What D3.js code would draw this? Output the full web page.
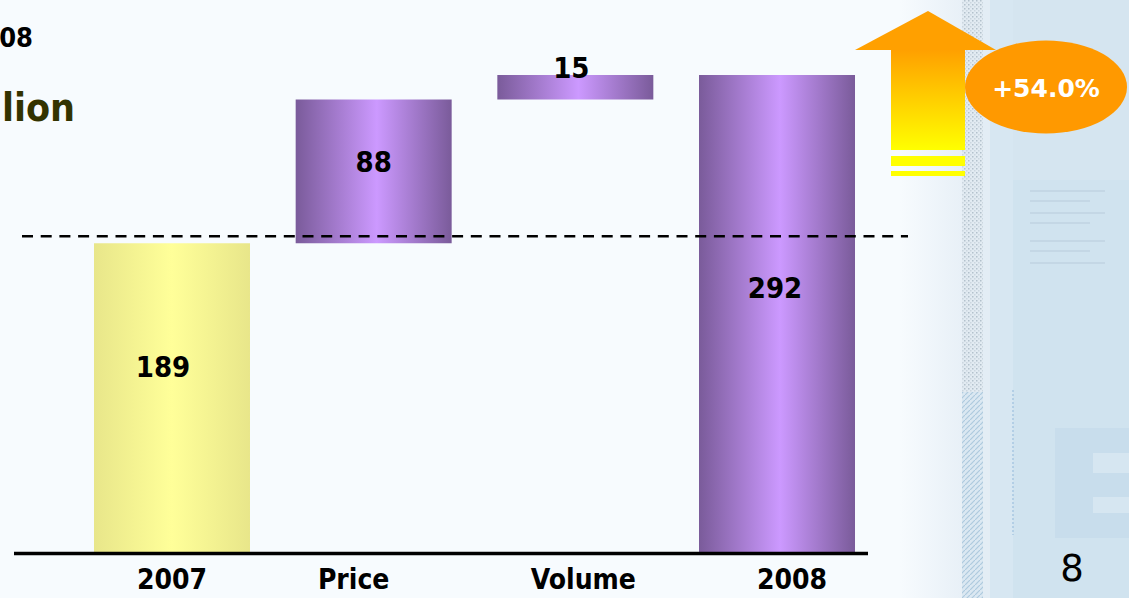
<!DOCTYPE html>
<html>
<head>
<meta charset="utf-8">
<script src="https://cdn.jsdelivr.net/npm/d3@7"></script>
<style>
html,body{margin:0;padding:0;background:#f7fbfe;overflow:hidden;}
svg{display:block;}
</style>
</head>
<body>
<svg id="chart" width="1129" height="598"></svg>
<script>
// ---- data ----
const categories = ["2007", "Price", "Volume", "2008"];
const values = [189, 88, 15, 292];
const kinds = ["total", "delta", "delta", "total"];
const growthLabel = "+54.0%";
const titleTail1 = "08";
const titleTail2 = "lion";
const pageNumber = "8";

// ---- style tweaks (label nudges relative to scale positions) ----
const tickDx = [0, -20, 8, 15];
const valueDx = [-9, 0, -4, -2];
const valueFrac = [0.40, 0.43, null, 0.445];

const FONT = "'DejaVu Sans Condensed', 'DejaVu Sans', sans-serif";
const svg = d3.select("#chart");
const W = 1129, H = 598;

// compute waterfall segments
let run = 0;
const segs = categories.map((c, i) => {
  let lo, hi;
  if (kinds[i] === "total") { lo = 0; hi = values[i]; run = values[i]; }
  else { lo = run; hi = run + values[i]; run = hi; }
  return {cat: c, v: values[i], lo, hi, kind: kinds[i], i};
});

const x = d3.scaleBand().domain(categories).range([94, 855]).paddingInner(0.2265).paddingOuter(0);
const y = d3.scaleLinear().domain([0, 292]).range([552, 75]);

const defs = svg.append("defs");
const gp = defs.append("linearGradient").attr("id", "gPurple").attr("x1", "0").attr("x2", "1").attr("y1", "0").attr("y2", "0");
gp.append("stop").attr("offset", "0").attr("stop-color", "#7a5b9a");
gp.append("stop").attr("offset", "0.52").attr("stop-color", "#cc99ff");
gp.append("stop").attr("offset", "1").attr("stop-color", "#7a5b9a");
const gy = defs.append("linearGradient").attr("id", "gYellow").attr("x1", "0").attr("x2", "1").attr("y1", "0").attr("y2", "0");
gy.append("stop").attr("offset", "0").attr("stop-color", "#e8e68a");
gy.append("stop").attr("offset", "0.5").attr("stop-color", "#ffff99");
gy.append("stop").attr("offset", "1").attr("stop-color", "#e8e68a");
const ga = defs.append("linearGradient").attr("id", "gArrow").attr("x1", "0").attr("x2", "0").attr("y1", "0").attr("y2", "1");
ga.append("stop").attr("offset", "0").attr("stop-color", "#ffa000");
ga.append("stop").attr("offset", "1").attr("stop-color", "#ffff00");
const gbg = defs.append("linearGradient").attr("id", "gBg").attr("x1", "0").attr("x2", "1").attr("y1", "0").attr("y2", "0");
gbg.append("stop").attr("offset", "0").attr("stop-color", "#f7fbfe");
gbg.append("stop").attr("offset", "1").attr("stop-color", "#e8f0f7");
// dot pattern
const pd = defs.append("pattern").attr("id", "pDots").attr("width", 4).attr("height", 4).attr("patternUnits", "userSpaceOnUse");
pd.append("rect").attr("width", 4).attr("height", 4).attr("fill", "#e2ebf2");
pd.append("rect").attr("width", 1.5).attr("height", 1.5).attr("fill", "#b3c1cc");
pd.append("rect").attr("x", 2).attr("y", 2).attr("width", 1.5).attr("height", 1.5).attr("fill", "#cbd6df");
const ph = defs.append("pattern").attr("id", "pHatch").attr("width", 5).attr("height", 5).attr("patternUnits", "userSpaceOnUse");
ph.append("rect").attr("width", 5).attr("height", 5).attr("fill", "#dbe8f2");
ph.append("path").attr("d", "M0,5 L5,0").attr("stroke", "#aecadf").attr("stroke-width", 1.2);

// background
svg.append("rect").attr("width", W).attr("height", H).attr("fill", "#f7fbfe");
svg.append("rect").attr("x", 900).attr("width", 62).attr("height", H).attr("fill", "url(#gBg)");

// right decorative panel
const panel = svg.append("g");
panel.append("rect").attr("x", 962).attr("y", 0).attr("width", W - 962).attr("height", H).attr("fill", "#d0e3ef");
panel.append("rect").attr("x", 962).attr("y", 0).attr("width", 21).attr("height", 392).attr("fill", "url(#pDots)");
panel.append("rect").attr("x", 962).attr("y", 392).attr("width", 21).attr("height", H - 392).attr("fill", "url(#pHatch)");
panel.append("rect").attr("x", 983).attr("y", 0).attr("width", 7).attr("height", H).attr("fill", "#e3edf5");
panel.append("rect").attr("x", 990).attr("y", 0).attr("width", 23).attr("height", H).attr("fill", "#d7e7f2");
panel.append("line").attr("x1", 1013).attr("x2", 1013).attr("y1", 390).attr("y2", 535).attr("stroke", "#a8c8e2").attr("stroke-width", 1.5).attr("stroke-dasharray", "2,2");
panel.append("rect").attr("x", 1013).attr("y", 0).attr("width", W - 1013).attr("height", 180).attr("fill", "#d5e5f0");
// faint blurred text lines
[190, 200, 212, 222, 240, 250, 262].forEach((yy, k) => {
  panel.append("rect").attr("x", 1030).attr("y", yy).attr("width", k % 2 ? 60 : 75).attr("height", 2).attr("fill", "#c4d7e5");
});
panel.append("rect").attr("x", 1055).attr("y", 428).attr("width", W - 1055).attr("height", 110).attr("fill", "#c8ddec");
panel.append("rect").attr("x", 1093).attr("y", 453).attr("width", W - 1093).attr("height", 20).attr("fill", "#d6e6f1");
panel.append("rect").attr("x", 1093).attr("y", 497).attr("width", W - 1093).attr("height", 16).attr("fill", "#d6e6f1");

// titles (cut off at left in the original)
svg.append("text").attr("x", 33).attr("y", 47).attr("text-anchor", "end")
  .attr("font-family", FONT).attr("font-weight", "bold").attr("font-size", 27).attr("fill", "#000").text(titleTail1);
svg.append("text").attr("x", 75).attr("y", 121).attr("text-anchor", "end")
  .attr("font-family", FONT).attr("font-weight", "bold").attr("font-size", 39).attr("fill", "#333300").text(titleTail2);

// bars
svg.append("g").selectAll("rect").data(segs).join("rect")
  .attr("x", d => x(d.cat))
  .attr("width", x.bandwidth())
  .attr("y", d => y(d.hi))
  .attr("height", d => y(d.lo) - y(d.hi))
  .attr("fill", d => d.i === 0 ? "url(#gYellow)" : "url(#gPurple)");

// dashed reference line at starting level
svg.append("line")
  .attr("x1", 22).attr("x2", 908)
  .attr("y1", y(values[0]) - 7).attr("y2", y(values[0]) - 7)
  .attr("stroke", "#000").attr("stroke-width", 2.5).attr("stroke-dasharray", "11,7.7");

// value labels
svg.append("g").selectAll("text").data(segs).join("text")
  .attr("x", d => x(d.cat) + x.bandwidth() / 2 + valueDx[d.i])
  .attr("y", d => {
    const top = y(d.hi), bot = y(d.lo);
    if (valueFrac[d.i] == null) return top - 7;
    return top + (bot - top) * valueFrac[d.i];
  })
  .attr("dy", "0.36em")
  .attr("text-anchor", "middle")
  .attr("font-family", FONT).attr("font-weight", "bold").attr("font-size", 29).attr("fill", "#000")
  .text(d => d.v);

// x axis
const xAxis = d3.axisBottom(x).tickSize(0).tickPadding(0);
const gx = svg.append("g").attr("transform", "translate(0,552)").call(xAxis);
gx.select(".domain").remove();
gx.selectAll(".tick text")
  .attr("font-family", FONT).attr("font-weight", "bold").attr("font-size", 28).attr("fill", "#000")
  .attr("dy", 0).attr("y", 37)
  .attr("x", (d, i) => tickDx[i]);
svg.append("line").attr("x1", 14).attr("x2", 868).attr("y1", 553.5).attr("y2", 553.5)
  .attr("stroke", "#000").attr("stroke-width", 3.5);

// growth arrow
const arrow = svg.append("g");
arrow.append("rect").attr("x", 891).attr("y", 50).attr("width", 74).attr("height", 100).attr("fill", "url(#gArrow)");
arrow.append("path").attr("d", "M855,50 L928,11 L996,50 Z").attr("fill", "#ffa000");
arrow.append("rect").attr("x", 891).attr("y", 156).attr("width", 74).attr("height", 10).attr("fill", "#ffff00");
arrow.append("rect").attr("x", 891).attr("y", 171).attr("width", 74).attr("height", 5).attr("fill", "#ffff00");

svg.append("ellipse").attr("cx", 1046).attr("cy", 87).attr("rx", 81).attr("ry", 46.5).attr("fill", "#ff9900");
svg.append("text").attr("x", 1046).attr("y", 97).attr("text-anchor", "middle")
  .attr("font-family", "'DejaVu Sans', sans-serif").attr("font-weight", "bold").attr("font-size", 25).attr("fill", "#fff")
  .text(growthLabel);

// page number
svg.append("text").attr("x", 1072).attr("y", 581).attr("text-anchor", "middle")
  .attr("font-family", "'DejaVu Sans', sans-serif").attr("font-size", 37).attr("fill", "#000")
  .text(pageNumber);
</script>
</body>
</html>
